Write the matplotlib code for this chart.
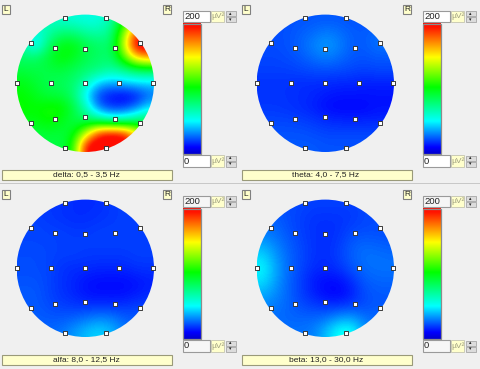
import numpy as np
import matplotlib
matplotlib.use("Agg")
import matplotlib.pyplot as plt
from matplotlib.colors import LinearSegmentedColormap
from matplotlib.patches import Rectangle, Circle

plt.rcParams['font.family'] = ['Liberation Sans', 'DejaVu Sans']

scale_min = 0
scale_max = 200
captions = ["delta: 0,5 - 3,5 Hz", "theta: 4,0 - 7,5 Hz", "alfa: 8,0 - 12,5 Hz", "beta: 13,0 - 30,0 Hz"]

delta_grid = [
    [70, 70, 62, 60, 58, 56, 56, 66, 100, 135, 145],
    [62, 55, 68, 78, 78, 70, 68, 74, 125, 185, 200],
    [68, 46, 80, 100, 100, 88, 82, 80, 135, 208, 208],
    [82, 82, 92, 102, 96, 86, 82, 80, 112, 155, 165],
    [90, 88, 88, 90, 85, 80, 76, 68, 72, 80, 82],
    [98, 92, 86, 84, 80, 64, 42, 36, 40, 44, 44],
    [102, 96, 90, 90, 80, 48, 18, 12, 8, 12, 26],
    [104, 102, 106, 106, 90, 64, 30, 18, 20, 30, 48],
    [98, 98, 104, 98, 88, 85, 76, 66, 66, 78, 86],
    [90, 90, 92, 90, 96, 135, 190, 200, 195, 155, 108],
    [86, 86, 88, 88, 105, 200, 210, 210, 208, 180, 112],
]
theta_grid = [
    [22, 22, 23, 23, 24, 24, 24, 23, 23, 23, 23],
    [22, 22, 23, 25, 27, 30, 28, 25, 24, 27, 27],
    [22, 22, 23, 26, 31, 35, 31, 25, 24, 28, 28],
    [21, 21, 22, 24, 27, 30, 27, 24, 23, 24, 24],
    [20, 20, 20, 21, 22, 22, 22, 21, 20, 21, 21],
    [18, 18, 18, 17, 17, 17, 16, 16, 15, 15, 15],
    [18, 18, 18, 17, 16, 14, 13, 13, 13, 13, 13],
    [19, 19, 18, 17, 15, 12, 11, 11, 11, 13, 13],
    [21, 21, 21, 20, 19, 17, 16, 16, 16, 16, 16],
    [23, 23, 23, 23, 22, 21, 21, 21, 21, 21, 21],
    [24, 24, 24, 24, 24, 23, 23, 23, 23, 23, 23],
]
alfa_grid = [
    [19, 19, 19, 18, 17, 17, 17, 19, 20, 20, 20],
    [20, 20, 19, 18, 17, 17, 18, 19, 20, 20, 20],
    [21, 21, 20, 20, 19, 19, 20, 20, 20, 20, 20],
    [21, 21, 21, 20, 20, 20, 20, 20, 20, 20, 20],
    [22, 22, 21, 20, 20, 19, 19, 19, 19, 20, 20],
    [22, 22, 21, 18, 17, 17, 16, 16, 16, 18, 18],
    [23, 23, 21, 18, 16, 13, 12, 12, 12, 13, 15],
    [24, 24, 21, 18, 16, 13, 12, 12, 12, 14, 16],
    [24, 24, 22, 20, 19, 18, 18, 18, 18, 20, 20],
    [25, 25, 24, 24, 25, 28, 31, 30, 25, 24, 24],
    [26, 26, 26, 28, 34, 40, 44, 40, 30, 26, 26],
]
beta_grid = [
    [24, 24, 22, 21, 20, 20, 20, 20, 21, 22, 22],
    [25, 25, 22, 20, 18, 18, 18, 19, 21, 22, 22],
    [28, 27, 23, 20, 18, 17, 18, 21, 22, 22, 22],
    [36, 30, 25, 21, 18, 17, 19, 24, 26, 25, 24],
    [44, 34, 26, 22, 18, 17, 20, 25, 28, 28, 27],
    [50, 36, 27, 21, 17, 16, 18, 23, 27, 28, 28],
    [46, 35, 26, 20, 14, 12, 12, 17, 24, 26, 26],
    [38, 32, 26, 20, 15, 11, 10, 14, 22, 24, 24],
    [32, 29, 26, 22, 20, 18, 18, 20, 22, 24, 24],
    [28, 27, 26, 26, 26, 28, 34, 36, 28, 26, 26],
    [28, 28, 28, 28, 30, 40, 52, 54, 36, 28, 28],
]
grids = [delta_grid, theta_grid, alfa_grid, beta_grid]

electrode_x = [64.5, 106, 31, 55, 85, 115, 140, 17, 51, 85, 119, 153, 55, 85, 115, 31, 140, 64.5, 106]
electrode_y = [18, 18, 43, 47.5, 49, 47.5, 43, 83, 83, 83, 83, 83, 118.5, 117, 118.5, 123, 123, 148, 148]

cmap = LinearSegmentedColormap.from_list("eeg", [
    (0.00, (0, 0, 0.80)), (0.05, (0, 0, 1)), (0.25, (0, 1, 1)), (0.51, (0, 1, 0)),
    (0.74, (1, 1, 0)), (0.97, (1, 0.08, 0)), (1.00, (1, 0.05, 0))])

fig = plt.figure(figsize=(4.8, 3.69), dpi=100, facecolor='#f0f0f0')
ax = fig.add_axes([0, 0, 1, 1])
ax.set_xlim(0, 480)
ax.set_ylim(369, 0)
ax.axis('off')

FS = 6.0

def box(x, y, w, h, fc, ec='#8c8c8c', lw=0.8, z=3):
    ax.add_patch(Rectangle((x, y), w, h, fc=fc, ec=ec, lw=lw, zorder=z))

def spin(x, y):
    for dy, glyph in ((0, '▴'), (6, '▾')):
        box(x, y + dy, 9.5, 5, '#dcdcdc', '#9a9a9a', 0.5)
        ax.text(x + 4.7, y + dy + 2.5, glyph, ha='center', va='center', fontsize=3.5, color='#222222', zorder=5)

for i, (grid, cap) in enumerate(zip(grids, captions)):
    ox = 240 * (i % 2)
    oy = 185 * (i // 2)
    cx = ox + 85.3
    cy = oy + 83.3
    r = 68.7
    im = ax.imshow(np.array(grid, float), extent=(cx - r, cx + r, cy + r, cy - r), cmap=cmap,
                   vmin=scale_min, vmax=scale_max, interpolation='bicubic',
                   interpolation_stage='data', aspect='auto', zorder=2)
    im.set_clip_path(Circle((cx, cy), r, transform=ax.transData))
    ax.scatter(ox + np.array(electrode_x) + (0.4 if i % 2 else 0), oy + np.array(electrode_y), marker='s', s=6,
               fc='white', ec='#303030', lw=0.65, zorder=4)
    for tx, t in ((1.5, 'L'), (163, 'R')):
        box(ox + tx, oy + 4.5, 8, 9, '#ffffcc', '#808080')
        ax.text(ox + tx + 4, oy + 9.2, t, ha='center', va='center', fontsize=FS, color='#222222', zorder=5)
    box(ox + 1.5, oy + 169.5, 170, 10, '#ffffcc', '#9a9a7a')
    ax.text(ox + 86, oy + 174.7, cap, ha='center', va='center', fontsize=FS, color='#222222', zorder=5)
    ax.imshow(np.linspace(scale_max, scale_min, 256)[:, None], extent=(ox + 182.5, ox + 200.5, oy + 154, oy + 23.5),
              cmap=cmap, vmin=scale_min, vmax=scale_max, aspect='auto', zorder=2)
    ax.add_patch(Rectangle((ox + 182.5, oy + 23.5), 18, 130.5, fill=False, ec='#8c8c8c', lw=0.9, zorder=3))
    fc = 'white' if i < 2 else '#f6f6f6'
    for vy, val in ((10.5, scale_max), (155, scale_min)):
        box(ox + 182.5, oy + vy, 27, 11.5, fc, '#9a9a9a')
        ax.text(ox + 184, oy + vy + 6, str(val), ha='left', va='center', fontsize=FS + 0.8, color='#222222', zorder=5)
        box(ox + 211, oy + vy, 13, 11.5, '#ffffcc', '#c4c4b0', 0.6)
        ax.text(ox + 217.5, oy + vy + 6, 'µV²', ha='center', va='center', fontsize=FS, color='#a0a080', zorder=5)
        spin(ox + 226, oy + vy + 0.5)

ax.add_patch(Rectangle((0, 182.5), 480, 1.6, fc='#c8c8c8', ec='none', zorder=1))
ax.set_xlim(0, 480)
ax.set_ylim(369, 0)
fig.savefig('out.png', dpi=100, facecolor=fig.get_facecolor())
